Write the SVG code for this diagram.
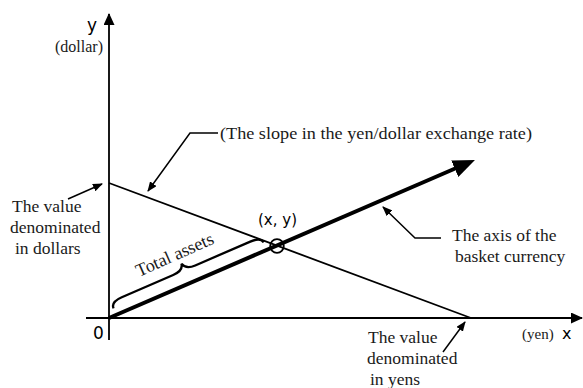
<svg xmlns="http://www.w3.org/2000/svg" width="583" height="388" viewBox="0 0 583 388">
<defs>
<style>
.ln{stroke:#000;stroke-width:1.8;fill:none}
.thin{stroke:#000;stroke-width:1.5;fill:none}
.serif{font-family:"Liberation Serif","Times New Roman",serif;fill:#1a1a1a}
.sans{font-family:"DejaVu Sans","Liberation Sans",sans-serif;fill:#000}
</style>
<marker id="axisHead" markerUnits="userSpaceOnUse" viewBox="0 0 12 11" markerWidth="12" markerHeight="11" refX="11" refY="5.5" orient="auto">
<path d="M0,0 L12,5.5 L0,11 z" fill="#000"/>
</marker>
<marker id="thickHead" markerUnits="userSpaceOnUse" viewBox="0 0 22 18" markerWidth="22" markerHeight="18" refX="8" refY="9" orient="auto">
<path d="M0,0 L22,9 L0,18 z" fill="#000"/>
</marker>
<marker id="smallHead" markerUnits="userSpaceOnUse" viewBox="0 0 10 8" markerWidth="10" markerHeight="8" refX="9" refY="4" orient="auto">
<path d="M0,0 L10,4 L0,8 z" fill="#000"/>
</marker>
</defs>
<rect width="583" height="388" fill="#fff"/>

<g id="axes">
<line class="ln" x1="109" y1="340" x2="109" y2="14" marker-end="url(#axisHead)"/>
<line class="ln" x1="86" y1="318" x2="582" y2="318" marker-end="url(#axisHead)"/>
<text class="sans" x="87" y="31" font-size="17">y</text>
<text class="serif" x="55" y="52" font-size="16">(dollar)</text>
<text class="sans" x="93" y="339" font-size="17">0</text>
<text class="serif" x="522" y="339" font-size="15">(yen)</text>
<text class="sans" x="562" y="339" font-size="16">x</text>
</g>

<g id="connectors">
<line id="budget-line" class="ln" x1="109" y1="183" x2="471" y2="318"/>
<line id="basket-axis" x1="109" y1="318" x2="462.1" y2="165.5" stroke="#000" stroke-width="4" marker-end="url(#thickHead)"/>
<polyline class="thin" points="218,133 190,133 148,191" marker-end="url(#smallHead)"/>
<line class="thin" x1="68" y1="199" x2="102" y2="184" marker-end="url(#smallHead)"/>
<polyline class="thin" points="441,238 415,238 383,207" marker-end="url(#smallHead)"/>
<line class="thin" x1="443" y1="352" x2="465" y2="322" marker-end="url(#smallHead)"/>
</g>

<g id="point-xy">
<circle cx="277" cy="246" r="6.8" fill="none" stroke="#000" stroke-width="1.8"/>
<text class="sans" x="258" y="225" font-size="15">(x, y)</text>
</g>

<g id="total-assets">
<g transform="translate(109,318) rotate(-23.4)">
<path d="M8,-7 Q8,-14 20,-14 L76,-14 Q87,-14 88,-21 Q90,-14 100,-14 L160,-14 Q171,-14 172,-8" fill="none" stroke="#000" stroke-width="2.3"/>
</g>
<text class="serif" font-size="18" transform="translate(139,277) rotate(-24)">Total assets</text>
</g>

<g id="slope-label">
<text class="serif" x="220" y="139" font-size="17" textLength="312" lengthAdjust="spacingAndGlyphs">(The slope in the yen/dollar exchange rate)</text>
</g>

<g id="value-dollars">
<text class="serif" font-size="17.5"><tspan x="12" y="212">The value</tspan><tspan x="10" y="233">denominated</tspan><tspan x="15" y="254">in dollars</tspan></text>
</g>

<g id="basket-label">
<text class="serif" font-size="17.5"><tspan x="452" y="241">The axis of the</tspan><tspan x="455" y="262">basket currency</tspan></text>
</g>

<g id="value-yens">
<text class="serif" font-size="17.5"><tspan x="368" y="343">The value</tspan><tspan x="367" y="364">denominated</tspan><tspan x="370" y="385">in yens</tspan></text>
</g>
</svg>
